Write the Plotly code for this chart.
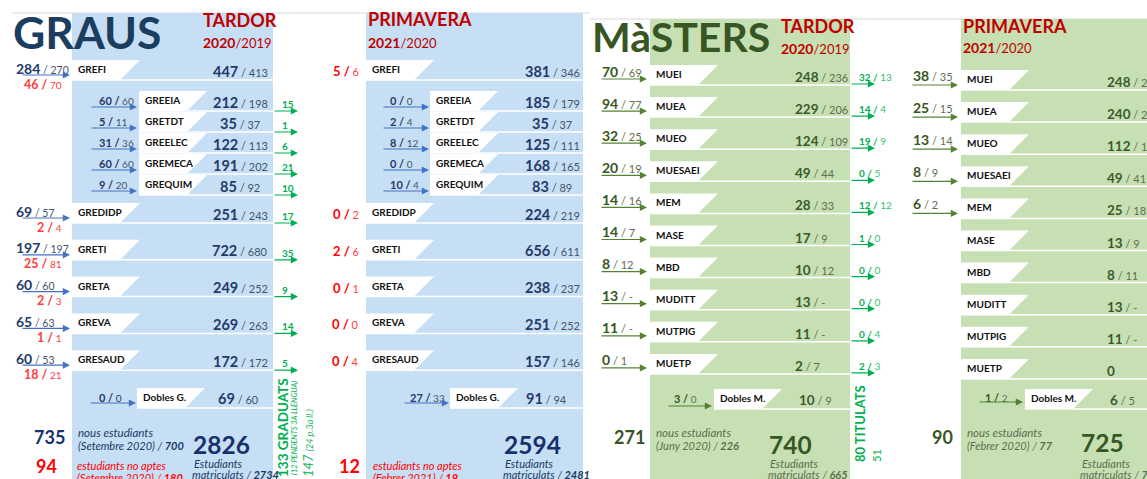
import plotly.graph_objects as go

# ---------------- DATA ----------------
graus_codes = ["GREFI", "GREEIA", "GRETDT", "GREELEC", "GREMECA", "GREQUIM",
               "GREDIDP", "GRETI", "GRETA", "GREVA", "GRESAUD"]
graus_is_sub = [False, True, True, True, True, True, False, False, False, False, False]

# Tardor 2020 / 2019
gt_new_cur = [284, 60, 5, 31, 60, 9, 69, 197, 60, 65, 60]
gt_new_prev = [270, 60, 11, 36, 60, 20, 57, 197, 60, 63, 53]
gt_unfit_cur = [46, None, None, None, None, None, 2, 25, 2, 1, 18]
gt_unfit_prev = [70, None, None, None, None, None, 4, 81, 3, 1, 21]
gt_enr_cur = [447, 212, 35, 122, 191, 85, 251, 722, 249, 269, 172]
gt_enr_prev = [413, 198, 37, 113, 202, 92, 243, 680, 252, 263, 172]
graduats = [None, 15, 1, 6, 21, 10, 17, 35, 9, 14, 5]

# Primavera 2021 / 2020
gp_new_cur = [None, 0, 2, 8, 0, 10, None, None, None, None, None]
gp_new_prev = [None, 0, 4, 12, 0, 4, None, None, None, None, None]
gp_unfit_cur = [5, None, None, None, None, None, 0, 2, 0, 0, 0]
gp_unfit_prev = [6, None, None, None, None, None, 2, 6, 1, 0, 4]
gp_enr_cur = [381, 185, 35, 125, 168, 83, 224, 656, 238, 251, 157]
gp_enr_prev = [346, 179, 37, 111, 165, 89, 219, 611, 237, 252, 146]

dobles_g_label = "Dobles G."
dobles_g_tardor_new = (0, 0)
dobles_g_tardor_enr = (69, 60)
dobles_g_prim_new = (27, 33)
dobles_g_prim_enr = (91, 94)

graus_tardor_new = (735, 700)
graus_tardor_unfit = (94, 180)
graus_tardor_enr = (2826, 2734)
graus_graduats = 133
graus_pendents = 12
graus_graduats_prev = 147
graus_pendents_prev = 24
graus_prim_unfit = (12, 19)
graus_prim_enr = (2594, 2481)

masters_codes = ["MUEI", "MUEA", "MUEO", "MUESAEI", "MEM", "MASE", "MBD", "MUDITT", "MUTPIG", "MUETP"]
mt_new_cur = [70, 94, 32, 20, 14, 14, 8, 13, 11, 0]
mt_new_prev = ["69", "77", "25", "19", "16", "7", "12", "-", "-", "1"]
mt_enr_cur = [248, 229, 124, 49, 28, 17, 10, 13, 11, 2]
mt_enr_prev = ["236", "206", "109", "44", "33", "9", "12", "-", "-", "7"]
titulats_cur = [32, 14, 19, 0, 12, 1, 0, 0, 0, 2]
titulats_prev = [13, 4, 9, 5, 12, 0, 0, 0, 4, 3]
mp_new_cur = [38, 25, 13, 8, 6, None, None, None, None, None]
mp_new_prev = [35, 15, 14, 9, 2, None, None, None, None, None]
mp_enr_cur = [248, 240, 112, 49, 25, 13, 8, 13, 11, 0]
mp_enr_prev = ["229", "203", "104", "41", "18", "9", "11", "-", "-", None]

dobles_m_label = "Dobles M."
dobles_m_tardor_new = (3, 0)
dobles_m_tardor_enr = (10, 9)
dobles_m_prim_new = (1, 2)
dobles_m_prim_enr = (6, 5)

masters_tardor_new = (271, 226)
masters_tardor_enr = (740, 665)
masters_titulats = 80
masters_titulats_prev = 51
masters_prim_new = (90, 77)
masters_prim_enr = (725, 717)

# ---------------- STYLE ----------------
FONT = "Lato, 'Open Sans', sans-serif"
NAVY_TITLE = "#1b3d5f"
NAVY = "#203864"
NAVY_NUM = "#27396a"
NAVY_BIG = "#16316b"
GREY_BLUE = "#44546a"
ARROW_BLUE = "#4472c4"
RED_DARK = "#c00000"
RED = "#ff0000"
RED_SOFT = "#ff3d3d"
GREEN = "#00b050"
GREEN_SOFT = "#33c070"
DGREEN = "#375623"
DGREEN_NUM = "#3d5a2c"
GREEN_GREY = "#5d6e50"
ARROW_GREEN = "#548235"
BLUE_BG = "#c6dff4"
GREEN_BG = "#c6e0b4"

shapes = []
anns = []


def text(x, y, s, size, color, xa="left", ya="middle", angle=0):
    anns.append(dict(x=x, y=y, xref="x", yref="y", text=s, showarrow=False,
                     xanchor=xa, yanchor=ya, textangle=angle,
                     font=dict(family=FONT, size=size, color=color)))


def arrow(x0, x1, y, color, w=1.2):
    anns.append(dict(x=x1, y=y, ax=x0, ay=y, xref="x", yref="y", axref="x", ayref="y",
                     text="", showarrow=True, arrowhead=2, arrowsize=1.2,
                     arrowwidth=w, arrowcolor=color, standoff=0, startstandoff=0))


def rect(x0, y0, x1, y1, color):
    shapes.append(dict(type="rect", xref="x", yref="y", x0=x0, y0=y0, x1=x1, y1=y1,
                       fillcolor=color, line=dict(width=0), layer="below"))


def hline(x0, x1, y, color, w=1.5):
    shapes.append(dict(type="line", xref="x", yref="y", x0=x0, x1=x1, y0=y, y1=y,
                       line=dict(color=color, width=w), layer="below"))


def tag(x0, top, label):
    path = f"M{x0},{top} L{x0 + 68},{top} L{x0 + 48},{top + 20} L{x0},{top + 20} Z"
    shapes.append(dict(type="path", path=path, xref="x", yref="y", fillcolor="white",
                       line=dict(width=0), layer="below"))
    text(x0 + 4, top + 9, f"<b>{label}</b>", 10, "#111111")


def pair_big(cur, prev, small, c_small):
    if prev is None:
        return f"<b>{cur}</b>"
    return f"<b>{cur}</b><span style='font-size:{small}px;color:{c_small}'> / {prev}</span>"


def pair_slash(cur, prev, small, c_small):
    return f"<b>{cur} /</b><span style='font-size:{small}px;color:{c_small}'> {prev}</span>"


# ---------------- GEOMETRY ----------------
GT_X0, GT_X1 = 72, 273
GP_X0, GP_X1 = 366, 583
MT_X0, MT_X1 = 650, 850
MP_X0, MP_X1 = 961, 1147
G_TOP, M_TOP = 13, 19

# top grey rules
hline(12, 590, G_TOP, "#d9d9d9", 1)
hline(590, 1147, M_TOP, "#d9d9d9", 1)

rect(GT_X0, G_TOP, GT_X1, 479, BLUE_BG)
rect(GP_X0, G_TOP, GP_X1, 479, BLUE_BG)
rect(MT_X0, M_TOP, MT_X1, 479, GREEN_BG)
rect(MP_X0, M_TOP, MP_X1, 479, GREEN_BG)

# graus row tops
g_tops = []
y = 60
for i, sub in enumerate(graus_is_sub):
    if i > 0:
        prev_sub = graus_is_sub[i - 1]
        if sub and not prev_sub:
            y += 31
        elif sub and prev_sub:
            y += 21
        elif prev_sub:
            y += 28
        else:
            y += 36.8
    g_tops.append(y)
G_DOBLES_TOP = 388

# ---------------- GRAUS ----------------
text(11, 31, "<b>GRAUS</b>", 44.5, NAVY_TITLE)
text(201, 20, "<b>TARDOR</b>", 18, RED_DARK)
text(201, 42, "<b>2020</b><span style='font-size:13px'>/2019</span>", 14, RED_DARK)
text(366, 19, "<b>PRIMAVERA</b>", 18, RED_DARK)
text(366, 42, "<b>2021</b><span style='font-size:13px'>/2020</span>", 14, RED_DARK)

for i, code in enumerate(graus_codes):
    top = g_tops[i]
    sub = graus_is_sub[i]
    # Tardor
    tx = GT_X0 + 67 if sub else GT_X0
    hline(tx, GT_X1, top + 20, "white")
    tag(tx, top, code)
    text(240, top + 11, pair_big(gt_enr_cur[i], gt_enr_prev[i], 11, GREY_BLUE), 14.5, NAVY_NUM, xa="center")
    if sub:
        text(97, top + 9, pair_slash(gt_new_cur[i], gt_new_prev[i], 10, GREY_BLUE), 11, NAVY_NUM)
        arrow(90, 137, top + 16, ARROW_BLUE)
    else:
        text(14, top + 8, pair_big(gt_new_cur[i], gt_new_prev[i], 10.5, GREY_BLUE), 14, NAVY_NUM)
        arrow(21, 70, top + 15, ARROW_BLUE)
        text(64, top + 24, pair_slash(gt_unfit_cur[i], gt_unfit_prev[i], 10, RED_SOFT), 12.5, RED_SOFT, xa="right")
    if graduats[i] is not None:
        text(280, top + 13, f"<b>{graduats[i]}</b>", 10, GREEN)
        arrow(GT_X1, 298, top + 20, GREEN)
    # Primavera
    px = GP_X0 + 64 if sub else GP_X0
    hline(px, GP_X1, top + 20, "white")
    tag(px, top, code)
    text(552, top + 11, pair_big(gp_enr_cur[i], gp_enr_prev[i], 11, GREY_BLUE), 14.5, NAVY_NUM, xa="center")
    if sub:
        text(388, top + 9, pair_slash(gp_new_cur[i], gp_new_prev[i], 10, GREY_BLUE), 11, NAVY_NUM)
        arrow(382, 429, top + 16, ARROW_BLUE)
    else:
        text(361, top + 11, pair_slash(gp_unfit_cur[i], gp_unfit_prev[i], 11, RED_SOFT), 13, RED, xa="right")

# dobles graus
hline(137, GT_X1, G_DOBLES_TOP + 20, "white")
tag(137, G_DOBLES_TOP, dobles_g_label)
text(238, G_DOBLES_TOP + 10, pair_big(*dobles_g_tardor_enr, 11, GREY_BLUE), 14.5, NAVY_NUM, xa="center")
text(97, G_DOBLES_TOP + 9, pair_slash(*dobles_g_tardor_new, 10, NAVY_NUM), 11, NAVY_NUM)
arrow(89, 136, G_DOBLES_TOP + 15, ARROW_BLUE)
hline(450, GP_X1, G_DOBLES_TOP + 20, "white")
tag(450, G_DOBLES_TOP, dobles_g_label)
text(546, G_DOBLES_TOP + 10, pair_big(*dobles_g_prim_enr, 11, GREY_BLUE), 14.5, NAVY_NUM, xa="center")
text(408, G_DOBLES_TOP + 9, pair_slash(*dobles_g_prim_new, 10, GREY_BLUE), 11, NAVY_NUM)
arrow(403, 449, G_DOBLES_TOP + 15, ARROW_BLUE)

# graus totals
text(67, 437, f"<b>{graus_tardor_new[0]}</b>", 18, NAVY_BIG, xa="right")
text(76, 432, "<i>nous estudiants</i>", 11.5, NAVY)
text(76, 445, f"<i>(Setembre 2020) / <b>{graus_tardor_new[1]}</b></i>", 11, NAVY)
text(59, 466, f"<b>{graus_tardor_unfit[0]}</b>", 18, RED, xa="right")
text(75, 465, "<i>estudiants no aptes</i>", 11, RED)
text(75, 477, f"<i>(Setembre 2020) / <b>{graus_tardor_unfit[1]}</b></i>", 11, RED)
text(191, 444, f"<b>{graus_tardor_enr[0]}</b>", 24.5, NAVY_BIG)
text(192, 463, "<i>Estudiants</i>", 11, NAVY)
text(190, 474, f"<i>matriculats / <b>{graus_tardor_enr[1]}</b></i>", 11, NAVY)
text(283, 428, f"<b>{graus_graduats} GRADUATS</b>", 13.5, GREEN, xa="center", angle=-90)
text(294, 428, f"<i>({graus_pendents} PENDENTS 3A LLENGUA)</i>", 7.5, GREEN, xa="center", angle=-90)
text(308, 443, f"<i>{graus_graduats_prev} <span style='font-size:9px'>({graus_pendents_prev} p.3a ll.)</span></i>",
     13, "#20b560", xa="center", angle=-90)

text(362, 466, f"<b>{graus_prim_unfit[0]}</b>", 18, RED, xa="right")
text(371, 465, "<i>estudiants no aptes</i>", 11, RED)
text(371, 477, f"<i>(Febrer 2021) / <b>{graus_prim_unfit[1]}</b></i>", 11, RED)
text(502, 444, f"<b>{graus_prim_enr[0]}</b>", 24.5, NAVY_BIG)
text(503, 463, "<i>Estudiants</i>", 11, NAVY)
text(501, 474, f"<i>matriculats / <b>{graus_prim_enr[1]}</b></i>", 11, NAVY)

# ---------------- MÀSTERS ----------------
text(590, 36, "<b>MàSTERS</b>", 41, DGREEN)
text(779, 26, "<b>TARDOR</b>", 18, RED_DARK)
text(779, 48, "<b>2020</b><span style='font-size:13px'>/2019</span>", 14, RED_DARK)
text(961, 26, "<b>PRIMAVERA</b>", 18, RED_DARK)
text(961, 47, "<b>2021</b><span style='font-size:13px'>/2020</span>", 14, RED_DARK)

M_ROW = 32.1
for i, code in enumerate(masters_codes):
    t = 65 + M_ROW * i
    hline(MT_X0, MT_X1, t + 20, "white")
    tag(MT_X0, t, code)
    text(793, t + 12, pair_big(mt_enr_cur[i], mt_enr_prev[i], 11, GREEN_GREY), 13.5, DGREEN_NUM)
    text(600, t + 6, pair_big(mt_new_cur[i], mt_new_prev[i], 11, GREEN_GREY), 14, DGREEN)
    arrow(600, 647, t + 14, ARROW_GREEN)
    text(857, t + 12, f"<b>{titulats_cur[i]} /</b><span style='color:{GREEN_SOFT}'> {titulats_prev[i]}</span>", 10, GREEN)
    arrow(MT_X1, 875, t + 19, GREEN)

    p = 70 + M_ROW * i
    hline(MP_X0, MP_X1, p + 20, "white")
    tag(MP_X0, p, code)
    text(1105, p + 12, pair_big(mp_enr_cur[i], mp_enr_prev[i], 11, GREEN_GREY), 13.5, DGREEN_NUM)
    if mp_new_cur[i] is not None:
        text(911, p + 5, pair_big(mp_new_cur[i], mp_new_prev[i], 11, GREEN_GREY), 14, DGREEN)
        arrow(911, 958, p + 15, ARROW_GREEN)

M_DOBLES_TOP = 389
hline(714, MT_X1, M_DOBLES_TOP + 20, "white")
tag(714, M_DOBLES_TOP, dobles_m_label)
text(797, M_DOBLES_TOP + 11, pair_big(*dobles_m_tardor_enr, 11, GREEN_GREY), 13.5, DGREEN_NUM)
text(672, M_DOBLES_TOP + 9, pair_slash(*dobles_m_tardor_new, 10, GREEN_GREY), 11, DGREEN)
arrow(667, 712, M_DOBLES_TOP + 17, ARROW_GREEN)
hline(1025, MP_X1, M_DOBLES_TOP + 20, "white")
tag(1025, M_DOBLES_TOP, dobles_m_label)
text(1108, M_DOBLES_TOP + 11, pair_big(*dobles_m_prim_enr, 11, GREEN_GREY), 13.5, DGREEN_NUM)
text(983, M_DOBLES_TOP + 8, pair_slash(*dobles_m_prim_new, 10, GREEN_GREY), 11, DGREEN)
arrow(978, 1023, M_DOBLES_TOP + 13, ARROW_GREEN)

text(647, 437, f"<b>{masters_tardor_new[0]}</b>", 18, DGREEN, xa="right")
text(654, 432, "<i>nous estudiants</i>", 11.5, GREEN_GREY)
text(654, 445, f"<i>(Juny 2020) / <b>{masters_tardor_new[1]}</b></i>", 11, GREEN_GREY)
text(767, 444, f"<b>{masters_tardor_enr[0]}</b>", 24.5, DGREEN)
text(768, 463, "<i>Estudiants</i>", 11, GREEN_GREY)
text(766, 474, f"<i>matriculats / <b>{masters_tardor_enr[1]}</b></i>", 11, GREEN_GREY)
text(860, 424, f"<b>{masters_titulats} TITULATS</b>", 13, GREEN, xa="center", angle=-90)
text(876, 456, f"{masters_titulats_prev}", 11, GREEN, xa="center", angle=-90)

text(955, 437, f"<b>{masters_prim_new[0]}</b>", 18, DGREEN, xa="right")
text(965, 432, "<i>nous estudiants</i>", 11.5, GREEN_GREY)
text(965, 445, f"<i>(Febrer 2020) / <b>{masters_prim_new[1]}</b></i>", 11, GREEN_GREY)
text(1079, 442, f"<b>{masters_prim_enr[0]}</b>", 24.5, DGREEN)
text(1080, 463, "<i>Estudiants</i>", 11, GREEN_GREY)
text(1078, 474, f"<i>matriculats / <b>{masters_prim_enr[1]}</b></i>", 11, GREEN_GREY)

fig = go.Figure(go.Scatter(x=[], y=[], hoverinfo="skip", showlegend=False))
fig.update_layout(
    width=1147, height=479, margin=dict(l=0, r=0, t=0, b=0),
    paper_bgcolor="white", plot_bgcolor="white",
    xaxis=dict(range=[0, 1147], visible=False, fixedrange=True),
    yaxis=dict(range=[479, 0], visible=False, fixedrange=True),
    shapes=shapes, annotations=anns, showlegend=False,
    font=dict(family=FONT),
)
fig.write_html("out.html", config={"displayModeBar": False, "staticPlot": True},
               post_script="document.body.style.margin='0';document.body.style.padding='0';")
